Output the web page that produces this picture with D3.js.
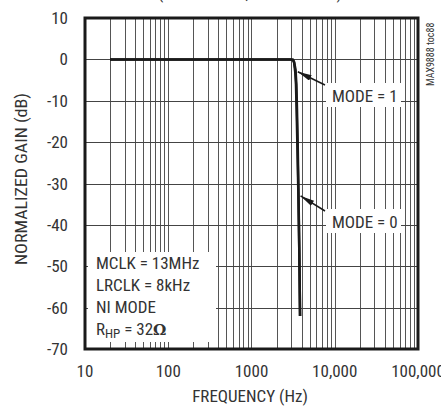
<!DOCTYPE html>
<html>
<head>
<meta charset="utf-8">
<script src="https://cdn.jsdelivr.net/npm/d3@7"></script>
<style>
  body { margin: 0; background: #fff; }
  svg text { font-family: "Liberation Sans Narrow", "Roboto Condensed", "DejaVu Sans Condensed", "Roboto", sans-serif; fill: #333; }
</style>
</head>
<body>
<svg id="chart"></svg>
<script>
const yTicks = [10, 0, -10, -20, -30, -40, -50, -60, -70];
const xTicks = [10, 100, 1000, 10000, 100000];
const xTickLabels = ['10', '100', '1000', '10,000', '100,000'];

const freqMode1 = [20, 100, 1000, 3000, 3150, 3250, 3350, 3420, 3480, 3550, 3650, 3750, 3830];
const gainMode1 = [0, 0, 0, 0, -0.1, -0.8, -3, -6, -12, -20, -32, -46, -62];
const freqMode0 = [20, 100, 1000, 3000, 3150, 3250, 3380, 3460, 3520, 3600, 3680, 3760, 3830];
const gainMode0 = [0, 0, 0, 0, -0.1, -0.6, -2.5, -6, -12, -22, -34, -48, -62];

const notes = ['MCLK = 13MHz', 'LRCLK = 8kHz', 'NI MODE'];

const width = 441, height = 409;
const svg = d3.select('#chart').attr('width', width).attr('height', height);

const x = d3.scaleLog().domain([10, 100000]).range([85, 418]);
const y = d3.scaleLinear().domain([-70, 10]).range([349, 18]);

// minor log grid
const minor = [];
for (let dec = 10; dec < 100000; dec *= 10) {
  for (let m = 1; m < 10; m++) minor.push(dec * m);
}

const grid = svg.append('g');
grid.selectAll('.vg')
  .data(minor.filter(f => f > 10))
  .enter().append('line')
  .attr('x1', d => Math.round(x(d)) + 0.5)
  .attr('x2', d => Math.round(x(d)) + 0.5)
  .attr('y1', y(10)).attr('y2', y(-70))
  .attr('stroke', '#555').attr('stroke-width', 1);

grid.selectAll('.hg')
  .data(yTicks.filter(v => v > -70 && v < 10))
  .enter().append('line')
  .attr('x1', x(10)).attr('x2', x(100000))
  .attr('y1', d => Math.round(y(d)) + 0.5)
  .attr('y2', d => Math.round(y(d)) + 0.5)
  .attr('stroke', '#444').attr('stroke-width', 1);

// curves
const line = d3.line().x(d => x(d[0])).y(d => y(d[1]));
const series = [
  d3.zip(freqMode1, gainMode1),
  d3.zip(freqMode0, gainMode0)
];
svg.selectAll('.curve')
  .data(series)
  .enter().append('path')
  .attr('d', line)
  .attr('fill', 'none')
  .attr('stroke', '#1a1a1a')
  .attr('stroke-width', 2.5);

// labels with arrows
const defs = svg.append('defs');
defs.append('marker')
  .attr('id', 'arr')
  .attr('viewBox', '0 0 14 6')
  .attr('refX', 14).attr('refY', 3)
  .attr('markerWidth', 14).attr('markerHeight', 6)
  .attr('markerUnits', 'userSpaceOnUse')
  .attr('orient', 'auto')
  .append('path').attr('d', 'M0,0L14,3L0,6Z').attr('fill', '#1a1a1a');

const callouts = [
  { text: 'MODE = 1', f: 3500, g: -3, by: 102 },
  { text: 'MODE = 0', f: 3780, g: -33, by: 228 }
];
callouts.forEach(c => {
  svg.append('rect')
    .attr('x', 326).attr('y', c.by - 19).attr('width', 75).attr('height', 24)
    .attr('fill', '#fff');
  svg.append('line')
    .attr('x1', 325).attr('y1', c.by - 17)
    .attr('x2', x(c.f) + 1).attr('y2', y(c.g))
    .attr('stroke', '#1a1a1a').attr('stroke-width', 1.5)
    .attr('marker-end', 'url(#arr)');
  svg.append('text')
    .attr('x', 332).attr('y', c.by)
    .attr('font-size', 17)
    .text(c.text);
});

// conditions box
svg.append('rect')
  .attr('x', 88).attr('y', 252).attr('width', 128).attr('height', 90)
  .attr('fill', '#fff');
notes.forEach((n, i) => {
  svg.append('text')
    .attr('x', 96).attr('y', 269 + i * 22)
    .attr('font-size', 17)
    .text(n);
});
const rhp = svg.append('text').attr('x', 96).attr('y', 335).attr('font-size', 17);
rhp.append('tspan').text('R');
rhp.append('tspan').attr('font-size', 13).attr('dy', 3).text('HP');
rhp.append('tspan').attr('dy', -3).text(' = 32');
rhp.append('tspan').attr('font-family', 'DejaVu Serif, serif').attr('font-weight', 'bold').attr('font-size', 15).text('Ω');

// frame
svg.append('rect')
  .attr('x', x(10)).attr('y', y(10))
  .attr('width', x(100000) - x(10)).attr('height', y(-70) - y(10))
  .attr('fill', 'none').attr('stroke', '#1a1a1a').attr('stroke-width', 3);

// y tick labels
svg.selectAll('.yl')
  .data(yTicks)
  .enter().append('text')
  .attr('x', 68).attr('y', d => y(d) + 6)
  .attr('text-anchor', 'end')
  .attr('font-size', 17)
  .text(d => d);

// x tick labels
svg.selectAll('.xl')
  .data(xTicks)
  .enter().append('text')
  .attr('x', d => x(d)).attr('y', 377)
  .attr('text-anchor', 'middle')
  .attr('font-size', 17)
  .text((d, i) => xTickLabels[i]);

svg.append('text')
  .attr('x', 250).attr('y', 402)
  .attr('text-anchor', 'middle')
  .attr('font-size', 17)
  .text('FREQUENCY (Hz)');

svg.append('text')
  .attr('transform', 'translate(27,179) rotate(-90)')
  .attr('text-anchor', 'middle')
  .attr('font-size', 17)
  .attr('textLength', 172)
  .attr('lengthAdjust', 'spacingAndGlyphs')
  .text('NORMALIZED GAIN (dB)');

svg.append('text')
  .attr('transform', 'translate(434,86) rotate(-90)')
  .attr('font-size', 10)
  .text('MAX9888 toc88');

// title, mostly above the visible area
svg.append('text')
  .attr('x', 158).attr('y', -1)
  .attr('font-size', 17)
  .attr('textLength', 184)
  .attr('lengthAdjust', 'spacing')
  .text('(MODE = 0, MODE = 1)');
</script>
</body>
</html>
